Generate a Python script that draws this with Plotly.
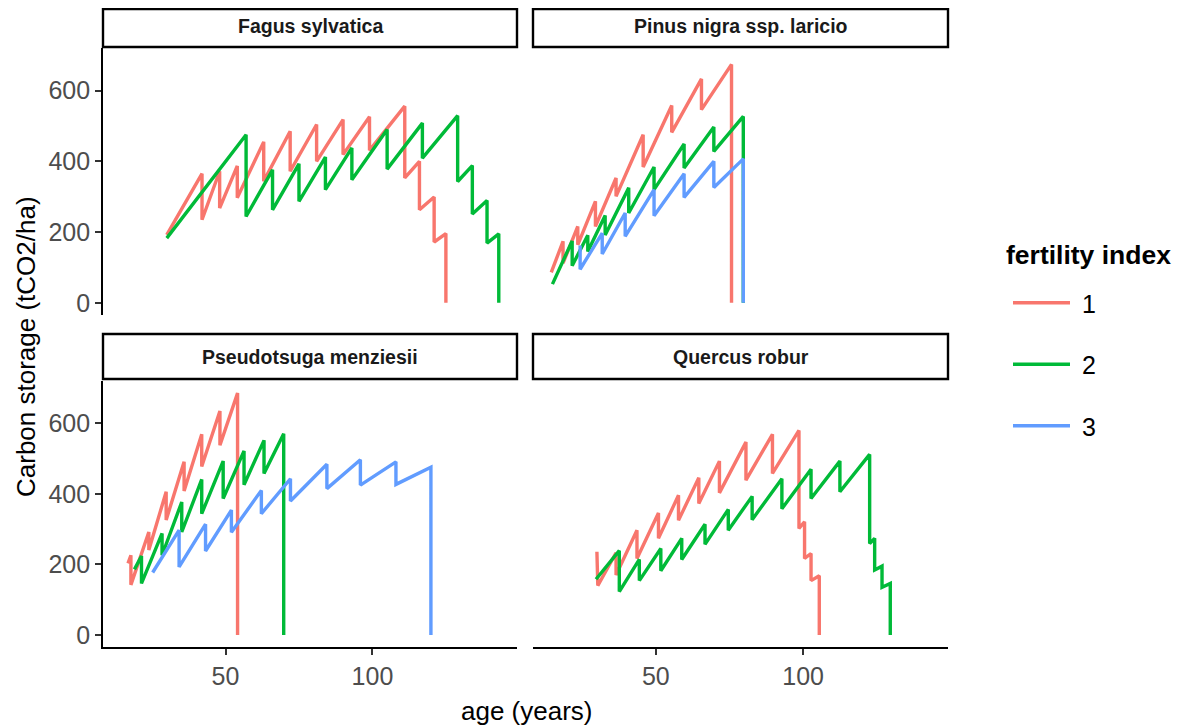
import plotly.graph_objects as go

# carbon storage (tCO2/ha) against stand age
fagus_1_age = [30, 42, 42, 48, 48, 54, 54, 63, 63, 72, 72, 81, 81, 90, 90, 99, 99, 111, 111, 116, 116, 121, 121, 125, 125]
fagus_1_c = [192, 365, 235, 372, 268, 387, 297, 455, 344, 485, 372, 504, 400, 518, 419, 526, 431, 556, 353, 400, 263, 299, 172, 196, 0]
fagus_2_age = [30, 57, 57, 66, 66, 75, 75, 84, 84, 93, 93, 105, 105, 117, 117, 129, 129, 134, 134, 139, 139, 143, 143]
fagus_2_c = [183, 475, 244, 376, 263, 393, 287, 412, 320, 438, 348, 490, 378, 508, 409, 529, 343, 388, 251, 289, 169, 195, 0]

pinus_1_age = [14.5, 18.5, 18.5, 23.5, 23.5, 29.5, 29.5, 36.5, 36.5, 45.7, 45.7, 55.4, 55.4, 65.5, 65.5, 75.7, 75.7]
pinus_1_c = [86, 174, 112, 216, 164, 287, 216, 353, 301, 475, 384, 558, 482, 633, 546, 674, 0]
pinus_2_age = [14.9, 21.6, 21.6, 26.9, 26.9, 32.8, 32.8, 40.8, 40.8, 49.4, 49.4, 59.6, 59.6, 69.7, 69.7, 79.7, 79.7]
pinus_2_c = [53, 175, 105, 191, 145, 247, 192, 325, 254, 384, 320, 449, 381, 497, 428, 527, 0]
pinus_3_age = [24.3, 24.3, 31.8, 31.8, 39.6, 39.6, 49.4, 49.4, 59.6, 59.6, 69.7, 69.7, 79.7, 79.7]
pinus_3_c = [162, 95, 197, 138, 254, 188, 320, 246, 365, 298, 400, 326, 407, 0]

pseudo_1_age = [16.8, 17.8, 17.8, 23.9, 23.9, 29.8, 29.8, 35.9, 35.9, 41.9, 41.9, 48.1, 48.1, 54.1, 54.1]
pseudo_1_c = [203, 226, 142, 292, 241, 406, 326, 491, 408, 569, 478, 635, 538, 686, 0]
pseudo_2_age = [19, 21.4, 21.4, 28.4, 28.4, 35.1, 35.1, 41.9, 41.9, 49.2, 49.2, 56.3, 56.3, 63.1, 63.1, 69.8, 69.8]
pseudo_2_c = [186, 224, 146, 288, 226, 377, 292, 441, 344, 493, 387, 522, 426, 552, 458, 571, 0]
pseudo_3_age = [25.2, 34.2, 34.2, 43.2, 43.2, 52, 52, 62.2, 62.2, 72.1, 72.1, 84.5, 84.5, 95.9, 95.9, 108, 108, 119.9, 119.9]
pseudo_3_c = [177, 297, 193, 314, 238, 354, 291, 410, 344, 443, 380, 484, 415, 497, 425, 491, 427, 476, 0]

quercus_1_age = [30, 30.3, 36.5, 36.5, 43.6, 43.6, 50.9, 50.9, 57.7, 57.7, 64.6, 64.6, 71.6, 71.6, 80.6, 80.6,
                 89.6, 89.6, 98.6, 98.6, 100.5, 100.5, 102.7, 102.7, 105.5, 105.5]
quercus_1_c = [236, 140, 233, 170, 297, 217, 346, 274, 396, 325, 446, 373, 493, 403, 547, 439,
               569, 458, 580, 302, 321, 217, 231, 154, 168, 0]
quercus_2_age = [29.7, 37.6, 37.6, 44.4, 44.4, 51.7, 51.7, 58.8, 58.8, 66.7, 66.7, 74.6, 74.6, 82.7, 82.7,
                 92.8, 92.8, 102.7, 102.7, 112.5, 112.5, 122.6, 122.6, 124.3, 124.3, 126.8, 126.8, 129.6, 129.6]
quercus_2_c = [158, 239, 123, 214, 154, 245, 182, 274, 214, 314, 257, 356, 297, 393, 327,
               443, 358, 470, 387, 493, 406, 512, 259, 274, 184, 195, 135, 146, 0]

species = ["Fagus sylvatica", "Pinus nigra ssp. laricio", "Pseudotsuga menziesii", "Quercus robur"]
colors = {"1": "#F8766D", "2": "#00BA38", "3": "#619CFF"}

panels = [
    [("1", fagus_1_age, fagus_1_c), ("2", fagus_2_age, fagus_2_c)],
    [("1", pinus_1_age, pinus_1_c), ("2", pinus_2_age, pinus_2_c), ("3", pinus_3_age, pinus_3_c)],
    [("1", pseudo_1_age, pseudo_1_c), ("2", pseudo_2_age, pseudo_2_c), ("3", pseudo_3_age, pseudo_3_c)],
    [("1", quercus_1_age, quercus_1_c), ("2", quercus_2_age, quercus_2_c)],
]

W, H = 1180, 728
OFF = 8  # the page puts the figure 8px in from the top left corner
FONT = "Liberation Sans, Arial, sans-serif"


def px(x):
    return (x - OFF) / W


def py(y):
    return 1 - (y - OFF) / H


# panel boxes in page pixels: (left, right, top, bottom)
boxes = [(103, 517, 48, 315), (533, 948, 48, 315), (103, 517, 381, 647), (533, 948, 381, 647)]
strips = [(9, 47), (9, 47), (334, 379), (334, 379)]

fig = go.Figure()
shown = set()
for i, series in enumerate(panels):
    sfx = "" if i == 0 else str(i + 1)
    for fi, x, y in series:
        fig.add_trace(go.Scatter(
            x=x, y=y, mode="lines",
            line=dict(color=colors[fi], width=3.4),
            name="\u00a0" + fi, legendgroup=fi, showlegend=fi not in shown,
            xaxis="x" + sfx, yaxis="y" + sfx,
        ))
        shown.add(fi)

layout_axes = {}
tickfont = dict(family=FONT, size=25, color="#4D4D4D")
for i, (l, r, t, b) in enumerate(boxes):
    sfx = "" if i == 0 else str(i + 1)
    bottom = i >= 2
    left = i % 2 == 0
    layout_axes["xaxis" + sfx] = dict(
        domain=[px(l), px(r)], anchor="y" + sfx, range=[8.3, 149.2],
        showgrid=False, zeroline=False,
        showline=bottom, linecolor="black", linewidth=1.8,
        ticks="outside" if bottom else "", ticklen=6, tickwidth=1.8, tickcolor="#333333",
        tickvals=[50, 100], showticklabels=bottom, tickfont=tickfont,
    )
    layout_axes["yaxis" + sfx] = dict(
        domain=[py(b), py(t)], anchor="x" + sfx, range=[-34.3, 720.3],
        showgrid=False, zeroline=False,
        showline=left, linecolor="black", linewidth=1.8,
        ticks="outside" if left else "", ticklen=6, tickwidth=1.8, tickcolor="#333333",
        tickvals=[0, 200, 400, 600], showticklabels=left, tickfont=tickfont,
    )

shapes = []
annotations = []
for i, name in enumerate(species):
    l, r, _, _ = boxes[i]
    st, sb = strips[i]
    shapes.append(dict(type="rect", xref="paper", yref="paper",
                       x0=px(l), x1=px(r), y0=py(sb), y1=py(st),
                       line=dict(color="black", width=2.4), fillcolor="white"))
    annotations.append(dict(text="<b>" + name + "</b>", xref="paper", yref="paper",
                            x=px((l + r) / 2), y=py(26 if i < 2 else 357), showarrow=False,
                            xanchor="center", yanchor="middle",
                            font=dict(family=FONT, size=19.5, color="#1A1A1A")))

annotations.append(dict(text="age (years)", xref="paper", yref="paper", x=px(527), y=py(711),
                        showarrow=False, xanchor="center", yanchor="middle",
                        font=dict(family=FONT, size=26, color="black")))
annotations.append(dict(text="Carbon storage (tCO2/ha)", xref="paper", yref="paper", x=1 / W, y=py(347),
                        showarrow=False, xanchor="left", yanchor="middle", textangle=-90,
                        font=dict(family=FONT, size=26, color="black")))
annotations.append(dict(text="<b>fertility index</b>", xref="paper", yref="paper", x=px(1004), y=py(255),
                        showarrow=False, xanchor="left", yanchor="middle",
                        font=dict(family=FONT, size=26.5, color="black")))

fig.update_layout(
    width=W, height=H,
    margin=dict(l=0, r=0, t=0, b=0, autoexpand=False),
    paper_bgcolor="white", plot_bgcolor="white",
    shapes=shapes, annotations=annotations,
    legend=dict(x=px(1008), y=py(280), xanchor="left", yanchor="top",
                font=dict(family=FONT, size=25, color="black"),
                tracegroupgap=26, itemwidth=57, bgcolor="rgba(0,0,0,0)"),
    **layout_axes,
)

fig.write_html("out.html")
